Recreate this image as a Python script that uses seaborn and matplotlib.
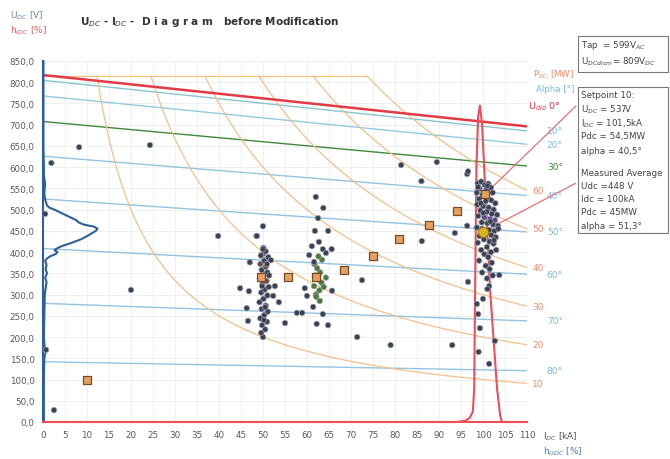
import numpy as np
import pandas as pd
import matplotlib
matplotlib.use("Agg")
import matplotlib.pyplot as plt
from matplotlib.patches import Rectangle
import seaborn as sns

# ---------------- data ----------------
# reference construction lines
udio_I = [0, 110]
udio_U = [817, 696]                       # U_dio 0 deg line
alpha_deg = [10, 20, 30, 40, 50, 60, 70, 80]
power_MW = [10, 20, 30, 40, 50, 60]
u_top_limit = 815

# histogram of U_DC (x = %, y = V)
hu_U = [0, 50, 100, 150, 165, 170, 175, 200, 250, 300, 330, 340, 350, 360, 370,
        380, 385, 390, 395, 400, 405, 410, 415, 420, 430, 440, 450, 455, 460,
        465, 470, 475, 480, 490, 500, 505, 510, 520, 530, 540, 560, 580, 600,
        650, 700, 850]
hu_pct = [0.2, 0.2, 0.2, 0.3, 0.6, 0.9, 0.4, 0.2, 0.3, 0.4, 0.8, 0.5, 0.9, 0.6, 0.8,
          0.5, 0.9, 1.6, 2.8, 3.3, 2.6, 3.4, 4.5, 6.0, 8.6, 10.4, 12.0, 12.4, 11.6,
          9.2, 8.1, 7.6, 6.6, 4.6, 2.6, 1.4, 0.9, 0.6, 0.4, 0.3, 0.5, 0.2, 0.2,
          0.1, 0.1, 0.1]

# histogram of I_DC (x = kA, y in axis units)
hi_I = [0, 50, 90, 94, 96, 97, 97.7, 98.0, 98.2, 98.5, 98.9, 99.3, 99.8, 100.5,
        101.6, 103.2, 103.9, 104.3, 110]
hi_h = [0, 0, 0, 0, 3, 10, 25, 80, 300, 600, 720, 745, 700, 549, 313, 78, 15, 0, 0]

# measured points
pts_I = [
    # cluster ~100 kA
    98.8, 99.6, 100.4, 101.2, 99.2, 100.8, 101.8, 98.6, 99.9, 101.0, 102.2, 98.9, 101.0,
    99.1, 100.6, 101.9, 102.8, 98.7, 100.0, 101.3, 102.4, 99.4, 100.9, 102.0, 103.2,
    98.9, 100.3, 101.6, 102.7, 99.7, 101.0, 102.3, 103.4, 98.6, 99.8, 101.4, 102.6,
    103.5, 100.7, 101.9, 99.2, 102.9, 100.2, 101.5, 98.8, 102.4, 100.9, 99.6, 101.8,
    103.0, 100.3, 101.2, 99.1, 102.0, 100.6, 101.5, 99.8, 102.2, 100.9, 101.4, 101.0,
    100.0, 98.6, 98.9, 99.3, 102.7, 99.0, 101.4, 99.5, 100.1, 101.7, 102.5,
    # scattered
    96.4, 96.6, 86.0, 81.4, 89.5, 96.4, 93.6, 86.1, 96.6, 103.7, 93.0, 2.5, 8.2,
    24.3, 1.9, 0.5, 0.7, 20.0, 39.8, 48.5, 50.0, 72.5, 71.4, 79.0, 55.0,
    # cluster ~50 kA
    50.0, 49.6, 50.5, 49.8, 50.9, 49.4, 50.3, 51.1, 49.7, 50.6, 49.2, 50.1, 51.0,
    49.6, 50.4, 51.3, 49.9, 50.8, 49.3, 50.2, 51.0, 49.7, 50.6, 49.4, 50.3, 51.2,
    49.9, 50.6, 50.1, 49.5, 50.9, 49.8, 50.5, 50.2, 51.4, 44.8, 46.8, 46.3, 46.6,
    47.0, 51.8, 52.7, 53.6, 52.3, 50.0, 48.6,
    # cluster ~62 kA
    62.0, 62.8, 61.6, 63.3, 62.4, 61.9, 63.0, 62.3, 61.7, 63.4, 62.6, 62.1, 63.8,
    64.3, 62.9, 63.7, 62.5, 61.8, 64.8, 61.1, 62.7, 63.6, 65.6, 60.5, 64.3, 61.6,
    59.5, 60.0, 65.7, 61.4, 63.6, 62.2, 64.8, 57.7, 58.9, 62.0,
]
pts_U = [
    562, 566, 558, 561, 550, 548, 552, 540, 535, 530, 540, 553, 556,
    525, 520, 522, 515, 512, 508, 505, 500, 498, 495, 490, 488,
    485, 482, 478, 475, 470, 468, 465, 462, 458, 455, 452, 450,
    455, 445, 440, 438, 435, 430, 425, 422, 420, 412, 405, 400,
    405, 395, 388, 380, 375, 368, 360, 352, 345, 338, 320, 313,
    290, 278, 254, 221, 191, 165, 137, 515, 492, 472, 428,
    584, 590, 567, 605, 612, 462, 445, 426, 330, 346, 181, 28, 647,
    652, 610, 490, 170, 311, 438, 438, 461, 334, 200, 181, 233,
    200, 210, 218, 228, 236, 244, 252, 260, 266, 274, 282, 290, 298,
    305, 312, 318, 326, 332, 338, 346, 352, 358, 365, 372, 380, 388,
    395, 402, 410, 392, 372, 320, 270, 240, 345, 315, 308, 268, 238,
    376, 381, 320, 282, 297, 407, 438,
    300, 310, 320, 328, 336, 345, 352, 362, 372, 382, 390, 295, 318,
    340, 285, 504, 480, 450, 450, 414, 424, 407, 407, 393, 398, 377,
    315, 297, 309, 271, 254, 231, 228, 257, 257, 530,
]
pts_group = (["dark"] * 4 + ["purple"] * 2 + ["dark"] * 20 + ["purple"] * 3 + ["dark"] * 43
             + ["dark"] * 25
             + ["dark"] * 16 + ["brown"] * 4 + ["dark"] * 2 + ["brown"] * 2 + ["dark"] * 22
             + ["green"] * 15 + ["dark"] * 21)

# setpoints and measured average
sp_I = [10, 49.5, 55.7, 62, 68.5, 75, 81, 87.7, 94, 100.5]
sp_U = [100, 342, 342, 342, 358, 391, 431, 464, 497, 537]
avg_I = [100]
avg_U = [448]

# ---------------- plot ----------------
sns.set_theme(style="white")
plt.rcParams["font.family"] = ["DejaVu Sans"]

W, H = 670, 460
fig = plt.figure(figsize=(W / 100, H / 100), dpi=100)
ax = fig.add_axes([43 / W, 37 / H, 484 / W, 361 / H])
ax.set_xlim(0, 110)
ax.set_ylim(0, 850)

# grid
ax.set_xticks(np.arange(0, 111, 5))
ax.set_yticks(np.arange(0, 851, 50))
ax.grid(True, color="#ededed", lw=0.6)
ax.set_axisbelow(True)

Igrid = np.linspace(0, 110, 221)
udio = np.interp(Igrid, udio_I, udio_U)

# alpha lines
alpha_cols = {10: "#86c6cc", 20: "#92cae2", 30: "#3d8a3d", 40: "#92c4e2",
              50: "#92c4e2", 60: "#92c4e2", 70: "#92c4e2", 80: "#92c4e2"}
for a in alpha_deg:
    ua = udio * np.cos(np.radians(a))
    sns.lineplot(x=Igrid, y=ua, ax=ax, color=alpha_cols[a], lw=1.0, sort=False,
                 estimator=None)
    lab_col = "#3d8a3d" if a == 30 else "#7ab8dc"
    ax.text(114.5, ua[-1], f"{a}°", color=lab_col, fontsize=6.5, va="center",
            ha="left", clip_on=False)

# power hyperbolas
for p in power_MW:
    i0 = p * 1000 / u_top_limit
    Ih = np.linspace(i0, 110, 120)
    sns.lineplot(x=Ih, y=p * 1000 / Ih, ax=ax, color="#f4c08c", lw=0.9,
                 sort=False, estimator=None)
    ax.text(111.2, p * 1000 / 110, f"{p}", color="#f08a6a", fontsize=6.5,
            va="center", ha="left", clip_on=False)
sns.lineplot(x=[0, power_MW[-1] * 1000 / u_top_limit], y=[u_top_limit] * 2, ax=ax,
             color="#f4c08c", lw=0.9, estimator=None)

# U_dio line
sns.lineplot(x=udio_I, y=udio_U, ax=ax, color="#e23b45", lw=1.8, estimator=None)

# histograms
ax.plot(hu_pct, hu_U, color="#2f5f9a", lw=1.5, clip_on=False, zorder=4)
ax.plot(hi_I, hi_h, color="#e8505a", lw=1.5, clip_on=False, zorder=4)

# points
df = pd.DataFrame({"I": pts_I, "U": pts_U, "g": pts_group})
pal = {"dark": "#3b4152", "purple": "#56468a", "brown": "#6e4848", "green": "#4c7a34"}
sns.scatterplot(data=df, x="I", y="U", hue="g", palette=pal, s=16, ax=ax,
                edgecolor="#9aa0ad", linewidth=0.5, legend=False, zorder=5)
sp_df = pd.DataFrame({"I": sp_I, "U": sp_U})
sns.scatterplot(data=sp_df, x="I", y="U", marker="s", s=30, color="#e6a062",
                edgecolor="#7a4a22", linewidth=0.9, ax=ax, zorder=6)
sns.scatterplot(x=avg_I, y=avg_U, marker="o", s=55, color="#d8b41c",
                edgecolor="#8a7010", linewidth=0.6, ax=ax, zorder=7)

# axes style
ax.set_xlabel("")
ax.set_ylabel("")
for s in ["top", "right"]:
    ax.spines[s].set_visible(False)
ax.spines["left"].set_color("#2f5f9a")
ax.spines["left"].set_linewidth(1.5)
ax.spines["bottom"].set_color("#e8505a")
ax.spines["bottom"].set_linewidth(1.5)
ax.set_xticklabels([str(v) for v in range(0, 111, 5)])
ax.set_yticklabels([f"{v:.1f}".replace(".", ",") for v in range(0, 851, 50)])
ax.tick_params(axis="both", labelsize=6.3, colors="#5a5a5a", length=3, width=0.6,
               direction="out", pad=3)
ax.tick_params(axis="both", color="#666666")


def ftext(x, y, s, **kw):
    fig.text(x / W, 1 - y / H, s, va="center", **kw)


ftext(80, 22, r"U$_{DC}$ - I$_{DC}$ -  D i a g r a m   before Modification",
      fontsize=7.5, color="#333333", fontweight="bold")
ftext(10, 16, r"U$_{DC}$ [V]", fontsize=6.5, color="#6a86a8")
ftext(10, 31, r"h$_{IDC}$ [%]", fontsize=6.5, color="#e05a5a")
ftext(543, 437, r"I$_{DC}$ [kA]", fontsize=6.5, color="#555555")
ftext(543, 452, r"h$_{UDC}$ [%]", fontsize=6.5, color="#4a7ab0")
ftext(574, 75, r"P$_{DC}$ [MW]", fontsize=6.2, color="#f08a6a", ha="right")
ftext(574, 90, "Alpha [°]", fontsize=6.2, color="#7ab8dc", ha="right")
ftext(528, 107, r"U$_{dio}$ 0°", fontsize=6.8, color="#e23b45")

# boxes
fig.patches.append(Rectangle((578 / W, 1 - 73 / H), 90 / W, 36 / H,
                             transform=fig.transFigure, fill=True, fc="white",
                             ec="#777777", lw=0.8))
ftext(581, 46, r"Tap  = 599V$_{AC}$", fontsize=6.3, color="#444444")
ftext(581, 62, r"U$_{DCdiom}$= 809V$_{DC}$", fontsize=6.3, color="#444444")

fig.patches.append(Rectangle((578 / W, 1 - 234 / H), 90 / W, 146 / H,
                             transform=fig.transFigure, fill=True, fc="white",
                             ec="#777777", lw=0.8))
box_lines = [(96, "Setpoint 10:"), (110, r"U$_{DC}$ = 537V"), (124, r"I$_{DC}$ = 101,5kA"),
             (137, "Pdc = 54,5MW"), (151, "alpha = 40,5°"), (174, "Measured Average"),
             (187, "Udc =448 V"), (200, "Idc = 100kA"), (213, "Pdc = 45MW"),
             (227, "alpha = 51,3°")]
for yy, s in box_lines:
    ftext(581, yy, s, fontsize=6.3, color="#444444")

ax.annotate("", xy=(sp_I[-1], sp_U[-1]), xycoords="data",
            xytext=(578 / W, 1 - 105 / H), textcoords="figure fraction",
            arrowprops=dict(arrowstyle="-", color="#e8707a", lw=0.9))
ax.annotate("", xy=(avg_I[0], avg_U[0]), xycoords="data",
            xytext=(578 / W, 1 - 183 / H), textcoords="figure fraction",
            arrowprops=dict(arrowstyle="-", color="#e8707a", lw=0.9))

fig.savefig("out.png", dpi=100, facecolor="white")
